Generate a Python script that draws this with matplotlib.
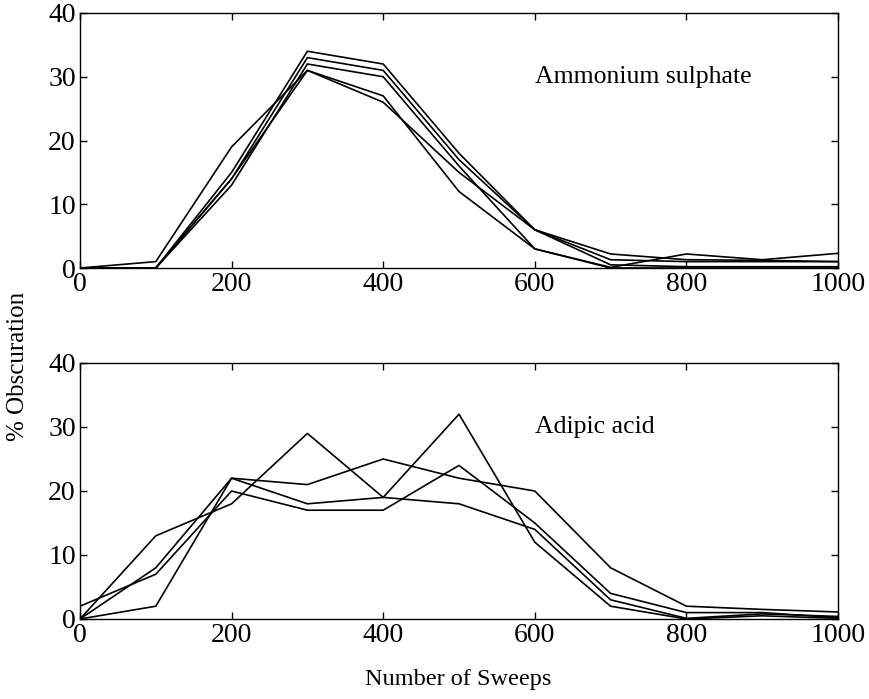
import matplotlib
matplotlib.use("Agg")
import matplotlib.pyplot as plt

sweeps = [0, 100, 200, 300, 400, 500, 600, 700, 800, 900, 1000]

# Ammonium sulphate runs (% obscuration)
amm_1 = [0, 1.0, 19, 31, 26, 15, 6, 2.2, 1.3, 1.2, 1.0]
amm_2 = [0, 0, 15, 34, 32, 18, 6, 1.3, 1.0, 1.0, 1.0]
amm_3 = [0, 0, 14, 33, 31, 17, 6, 0.5, 0.2, 0.2, 0.2]
amm_4 = [0, 0, 13, 32, 30, 16, 3, 0.1, 2.2, 1.3, 2.3]
amm_5 = [0, 0, 14, 31, 27, 12, 3, 0.0, 0.0, 0.0, 0.0]

# Adipic acid runs (% obscuration)
adi_1 = [0, 13, 18, 29, 19, 32, 12, 2, 0.0, 0.5, 0.1]
adi_2 = [0, 2, 22, 21, 25, 22, 20, 8, 2.0, 1.5, 1.1]
adi_3 = [0, 8, 22, 18, 19, 18, 14, 3, 0.1, 0.8, 0.4]
adi_4 = [2, 7, 20, 17, 17, 24, 15, 4, 1.0, 1.0, 0.2]

xticks = [0, 200, 400, 600, 800, 1000]
yticks = [0, 10, 20, 30, 40]

plt.rcParams['font.family'] = ['Liberation Serif', 'DejaVu Serif']

fig = plt.figure(figsize=(8.70, 6.99), dpi=100)
W, H = 870, 699
ax1 = fig.add_axes([80 / W, 1 - 268 / H, (838 - 80) / W, (268 - 13) / H])
ax2 = fig.add_axes([80 / W, 1 - 619 / H, (838 - 80) / W, (619 - 363) / H])

panels = [
    (ax1, [amm_1, amm_2, amm_3, amm_4, amm_5], "Ammonium sulphate"),
    (ax2, [adi_1, adi_2, adi_3, adi_4], "Adipic acid"),
]

for ax, series, label in panels:
    for s in series:
        ax.plot(sweeps, s, color="black", linewidth=1.2)
    ax.set_xlim(0, 1000)
    ax.set_ylim(0, 40)
    ax.set_xticks(xticks)
    ax.set_yticks(yticks)
    ax.tick_params(direction="in", top=True, right=True, length=5, width=1,
                   labelsize=20, pad=3)
    for sp in ax.spines.values():
        sp.set_linewidth(1.0)
    ax.text(600, 30, label, fontsize=18.5, va="center", ha="left")

fig.text(18 / W, 1 - 366 / H, "% Obscuration", rotation=90, fontsize=18,
         ha="center", va="center")
fig.text(458 / W, 1 - 680 / H, "Number of Sweeps", fontsize=17.5,
         ha="center", va="center")

fig.savefig("out.png", dpi=100)
